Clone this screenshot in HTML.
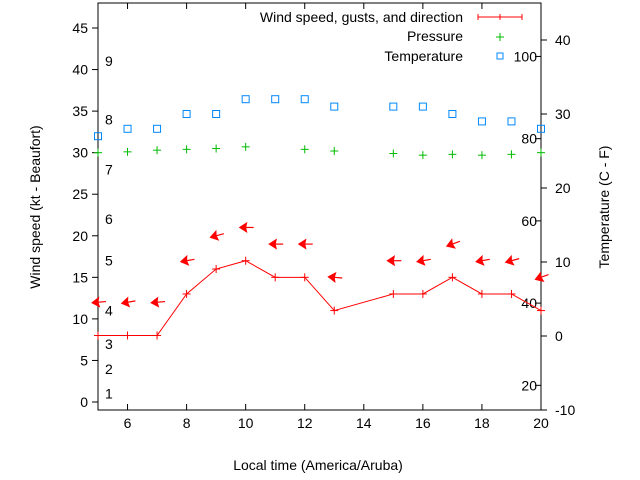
<!DOCTYPE html>
<html><head><meta charset="utf-8"><style>
body{margin:0;background:#fff;width:640px;height:480px;overflow:hidden}
svg{display:block;font-family:"Liberation Sans",sans-serif;font-size:14px}
</style></head><body>
<svg id="c" width="640" height="480"></svg>
<script>
const hours=[5,6,7,8,9,10,11,12,13,15,16,17,18,19,20];
const wind=[8,8,8,13,16,17,15,15,11,13,13,15,13,13,11];
const gust=[12,12,12,17,20,21,19,19,15,17,17,19,17,17,15];
const dirDeg=[85,80,85,80,75,90,90,90,95,90,80,70,80,75,70];
const pressure=[30.0,30.1,30.3,30.4,30.5,30.7,null,30.4,30.2,29.9,29.7,29.8,29.7,29.8,30.0];
const tempC=[27,28,28,30,30,32,32,32,31,31,31,30,29,29,28];
const xTicks=[6,8,10,12,14,16,18,20];
const yTicks=[0,5,10,15,20,25,30,35,40,45];
const y2Ticks=[-10,0,10,20,30,40];
const beaufortLabels=["1","2","3","4","5","6","7","8","9"];
const beaufortY=[1,4,7,11,17,22,28,34,41];
const fTicks=[20,40,60,80,100];
const svg=document.getElementById('c');const NS='http://www.w3.org/2000/svg';
const L=98,R=541,T=3,B=410;
const x=h=>L+(h-5)*(R-L)/15;
const y=v=>402-v*(402-28)/45;
const y2=c=>336-c*7.4;
function el(t,a,p){const e=document.createElementNS(NS,t);for(const k in a)e.setAttribute(k,a[k]);(p||svg).appendChild(e);return e;}
function txt(s,a){const e=el('text',a);e.textContent=s;return e;}
let f=el('rect',{x:L,y:T,width:R-L,height:B-T,fill:'none',stroke:'#000'});

xTicks.forEach(h=>{el('line',{x1:x(h),x2:x(h),y1:B,y2:B-6,stroke:'#000'});el('line',{x1:x(h),x2:x(h),y1:T,y2:T+6,stroke:'#000'});
 const t=txt(h,{x:x(h),y:B+18,'text-anchor':'middle'});});
yTicks.forEach(v=>{el('line',{x1:L,x2:L-6,y1:y(v),y2:y(v),stroke:'#000'});
 const t=txt(v,{x:L-10,y:y(v)+5,'text-anchor':'end'});});
y2Ticks.forEach(v=>{el('line',{x1:R,x2:R+6,y1:y2(v),y2:y2(v),stroke:'#000'});
 const t=txt(v,{x:R+14,y:y2(v)+5,'text-anchor':'start'});});
beaufortY.forEach((v,i)=>{
 const t=txt(beaufortLabels[i],{x:105,y:y(v)+5});});
fTicks.forEach(F=>{const c=(F-32)*5/9;el('line',{x1:R,x2:R-6,y1:y2(c),y2:y2(c),stroke:'#000'});
 const t=txt(F,{x:R-4,y:y2(c)+5,'text-anchor':'end'});});
let t=txt('Local time (America/Aruba)',{x:318,y:470,'text-anchor':'middle'});
t=txt('Wind speed (kt - Beaufort)',{x:0,y:0,'text-anchor':'middle',transform:'translate(40,207) rotate(-90)'});
t=txt('Temperature (C - F)',{x:0,y:0,'text-anchor':'middle',transform:'translate(609,207) rotate(-90)'});
let pl=el('polyline',{points:hours.map((h,i)=>x(h)+','+y(wind[i])).join(' '),fill:'none',stroke:'#f00','stroke-width':1});

hours.forEach((h,i)=>{const g=el('g',{stroke:'#f00'});
 el('line',{x1:x(h)-4,x2:x(h)+4,y1:y(wind[i]),y2:y(wind[i])},g);el('line',{x1:x(h),x2:x(h),y1:y(wind[i])-4,y2:y(wind[i])+4},g);});
hours.forEach((h,i)=>{const cx=x(h),cy=y(gust[i]);
 const g=el('g',{transform:`translate(${cx},${cy}) rotate(${dirDeg[i]-90})`});
 
 el('line',{x1:-3,y1:0,x2:8,y2:0,stroke:'#f00','stroke-width':1.2},g);
 el('polygon',{points:'-6,0 1,-4.5 0,0 1,4.5',fill:'#f00',stroke:'#f00'},g);});
hours.forEach((h,i)=>{if(pressure[i]==null)return;const g=el('g',{stroke:'#0b0'});
 el('line',{x1:x(h)-4,x2:x(h)+4,y1:y(pressure[i]),y2:y(pressure[i])},g);el('line',{x1:x(h),x2:x(h),y1:y(pressure[i])-4,y2:y(pressure[i])+4},g);});
hours.forEach((h,i)=>{const r=el('rect',{x:x(h)-3.5,y:y2(tempC[i])-3.5,width:7,height:7,fill:'none',stroke:'#08f'});
 });
t=txt('Wind speed, gusts, and direction',{x:463,y:22,'text-anchor':'end'});
let lg=el('g',{stroke:'#f00'});
el('line',{x1:478,x2:522,y1:17,y2:17},lg);el('line',{x1:478,x2:478,y1:14,y2:20},lg);el('line',{x1:522,x2:522,y1:14,y2:20},lg);el('line',{x1:500,x2:500,y1:14,y2:20},lg);
t=txt('Pressure',{x:463,y:41,'text-anchor':'end'});
lg=el('g',{stroke:'#0b0'});
el('line',{x1:496,x2:504,y1:37,y2:37},lg);el('line',{x1:500,x2:500,y1:33,y2:41},lg);
t=txt('Temperature',{x:463,y:61,'text-anchor':'end'});
let lr=el('rect',{x:497,y:53,width:6,height:6,fill:'none',stroke:'#08f'});
</script></body></html>
